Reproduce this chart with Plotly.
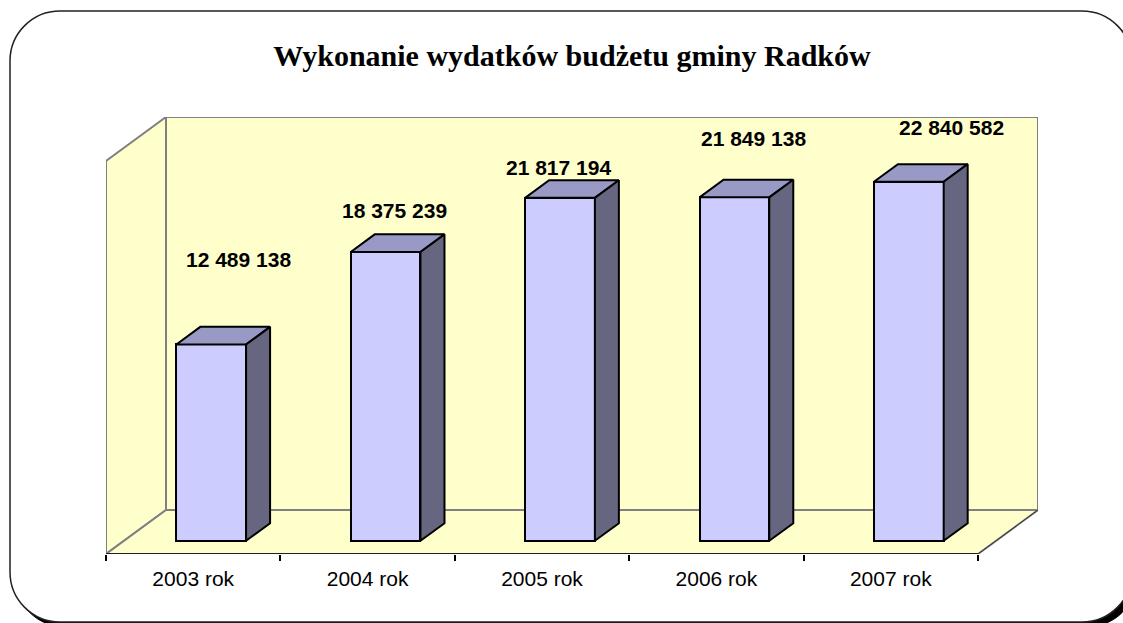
import plotly.graph_objects as go

# ---------------- data ----------------
categories = ["2003 rok", "2004 rok", "2005 rok", "2006 rok", "2007 rok"]
values = [12489138, 18375239, 21817194, 21849138, 22840582]
value_labels = ["12 489 138", "18 375 239", "21 817 194", "21 849 138", "22 840 582"]
title_text = "Wykonanie wydatków budżetu gminy Radków"

# ---------------- style / geometry ----------------
W, H = 1123, 623
PL, PR, PT, PB = 106, 1038, 117, 554      # plot area in pixels
FRONT_R_PX = 978                          # right end of front plane
FRONT_TOP_PX = 161                        # pixel of axis max on front plane
AXIS_MAX = 25e6
cat_px = (FRONT_R_PX - PL) / len(categories)
val_px = (PB - FRONT_TOP_PX) / AXIS_MAX
DX = (PR - FRONT_R_PX) / cat_px           # wall depth in category units
DY = (FRONT_TOP_PX - PT) / val_px         # wall depth in value units
BAR_FRONT = 0.3                           # bar front face depth fraction
BAR_DEPTH = 0.4                           # bar depth fraction
BAR_W = 0.4
WALL = "#FFFFCC"
GRAY = "#808080"
FRONT_C = "#CCCCFF"
TOP_C = "#9999C6"
SIDE_C = "#666680"
# label offsets in pixels from front-top centre of each bar (manually placed in source)
label_dx = [27, 9, -2, 19, 43]
label_dy = [85, 41, 30, 59, 54]

fig = go.Figure()

# bar front faces
bx = [i + BAR_FRONT * DX for i in range(len(categories))]
base = BAR_FRONT * DY
fig.add_trace(go.Bar(
    x=bx, y=values, base=[base] * len(values), width=BAR_W,
    marker=dict(color=FRONT_C, line=dict(color="black", width=2)),
    hoverinfo="skip", showlegend=False,
))

ddx, ddy = BAR_DEPTH * DX, BAR_DEPTH * DY
for c, v in zip(bx, values):
    xl, xr = c - BAR_W / 2, c + BAR_W / 2
    top = base + v
    # top face
    fig.add_trace(go.Scatter(
        x=[xl, xr, xr + ddx, xl + ddx, xl],
        y=[top, top, top + ddy, top + ddy, top],
        mode="lines", fill="toself", fillcolor=TOP_C,
        line=dict(color="black", width=2), hoverinfo="skip", showlegend=False))
    # side face
    fig.add_trace(go.Scatter(
        x=[xr, xr + ddx, xr + ddx, xr, xr],
        y=[base, base + ddy, top + ddy, top, base],
        mode="lines", fill="toself", fillcolor=SIDE_C,
        line=dict(color="black", width=2), hoverinfo="skip", showlegend=False))

# value labels
for c, v, t, ox, oy in zip(bx, values, value_labels, label_dx, label_dy):
    fig.add_annotation(x=c, y=base + v, text=f"<b>{t}</b>", showarrow=False,
                       xshift=ox, yshift=oy, xanchor="center", yanchor="middle",
                       font=dict(family="Liberation Sans, Arial", size=21, color="black"))


def px_x(p):
    return (p - PL) / (PR - PL)


def px_y(p):
    return (PB - p) / (PB - PT)


def rounded(l, t, r, b, rad):
    k = 0.5523 * rad
    pts = (
        f"M {px_x(l + rad)},{px_y(t)} L {px_x(r - rad)},{px_y(t)} "
        f"C {px_x(r - rad + k)},{px_y(t)} {px_x(r)},{px_y(t + rad - k)} {px_x(r)},{px_y(t + rad)} "
        f"L {px_x(r)},{px_y(b - rad)} "
        f"C {px_x(r)},{px_y(b - rad + k)} {px_x(r - rad + k)},{px_y(b)} {px_x(r - rad)},{px_y(b)} "
        f"L {px_x(l + rad)},{px_y(b)} "
        f"C {px_x(l + rad - k)},{px_y(b)} {px_x(l)},{px_y(b - rad + k)} {px_x(l)},{px_y(b - rad)} "
        f"L {px_x(l)},{px_y(t + rad)} "
        f"C {px_x(l)},{px_y(t + rad - k)} {px_x(l + rad - k)},{px_y(t)} {px_x(l + rad)},{px_y(t)} Z"
    )
    return pts


shapes = []
# outer frame shadow + frame
shapes.append(dict(type="path", xref="paper", yref="paper", layer="below",
                   path=rounded(15, 16, 1137, 627, 50), fillcolor="black",
                   line=dict(color="black", width=1)))
shapes.append(dict(type="path", xref="paper", yref="paper", layer="below",
                   path=rounded(10, 11, 1132, 622, 50), fillcolor="white",
                   line=dict(color="#222222", width=1.5)))

x0, x1 = -0.5, len(categories) - 0.5
# back wall
shapes.append(dict(type="rect", xref="x", yref="y", layer="below",
                   x0=x0 + DX, x1=x1 + DX, y0=DY, y1=AXIS_MAX + DY,
                   fillcolor=WALL, line=dict(color=GRAY, width=2)))
# left wall
shapes.append(dict(type="path", xref="x", yref="y", layer="below",
                   path=f"M {x0},0 L {x0},{AXIS_MAX} L {x0 + DX},{AXIS_MAX + DY} L {x0 + DX},{DY} Z",
                   fillcolor=WALL, line=dict(color=GRAY, width=2)))
# floor
shapes.append(dict(type="path", xref="x", yref="y", layer="below",
                   path=f"M {x0},0 L {x0 + DX},{DY} L {x1 + DX},{DY} L {x1},0 Z",
                   fillcolor=WALL, line=dict(color=GRAY, width=2)))
# floor right edge + front axis line
shapes.append(dict(type="line", xref="x", yref="y", layer="below",
                   x0=x1, y0=0, x1=x1 + DX, y1=DY, line=dict(color="#333333", width=1)))
shapes.append(dict(type="line", xref="x", yref="y", layer="above",
                   x0=x0, y0=0, x1=x1, y1=0, line=dict(color="black", width=1.5)))

fig.update_layout(
    width=W, height=H,
    margin=dict(l=PL, r=W - PR, t=PT, b=H - PB, pad=0),
    paper_bgcolor="white", plot_bgcolor="rgba(0,0,0,0)",
    shapes=shapes,
    showlegend=False,
    title=dict(text=f"<b>{title_text}</b>", x=572 / W, y=1 - 55 / H,
               xanchor="center", yanchor="middle", xref="container", yref="container",
               font=dict(family="Liberation Serif, Times New Roman", size=30, color="black")),
    xaxis=dict(range=[x0, x1 + DX], tickvals=list(range(len(categories))), ticktext=categories,
               showgrid=False, zeroline=False, showline=False,
               ticks="outside", ticklen=6, tickcolor="rgba(0,0,0,0)",
               minor=dict(tickvals=[i - 0.5 for i in range(len(categories) + 1)],
                          ticks="outside", ticklen=6, tickcolor="black", tickwidth=1.5,
                          showgrid=False),
               tickfont=dict(family="Liberation Sans, Arial", size=21, color="black"),
               fixedrange=True),
    yaxis=dict(range=[0, AXIS_MAX + DY], visible=False, fixedrange=True),
    bargap=0,
)

fig.write_html("out.html", config={"displayModeBar": False},
               post_script="document.body.style.margin='0';document.body.style.overflow='hidden';")
